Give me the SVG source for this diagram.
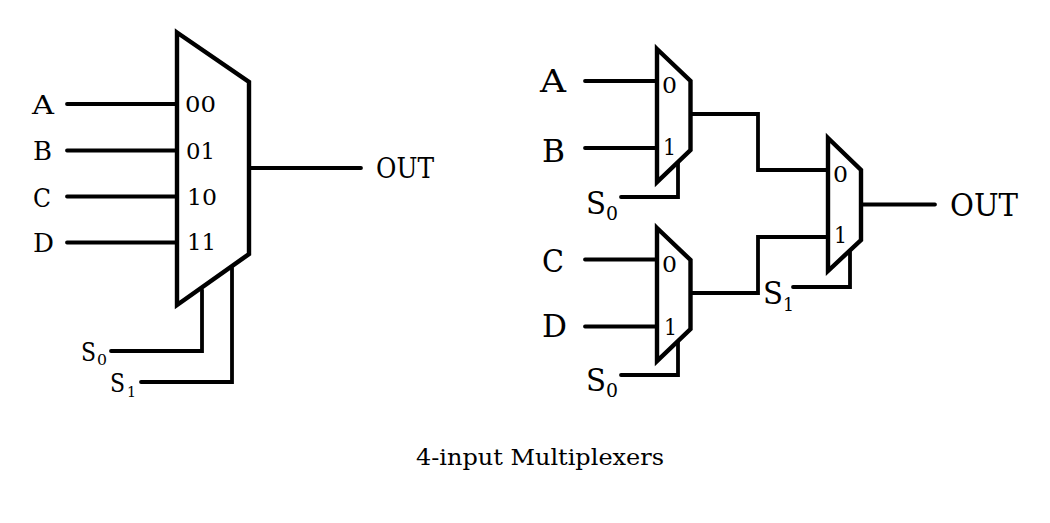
<svg xmlns="http://www.w3.org/2000/svg" width="1050" height="523" viewBox="0 0 1050 523">
<style>
text{font-family:"DejaVu Serif","Liberation Serif",serif;fill:#000}
.w{fill:none;stroke:#000;stroke-width:3.8;stroke-linecap:round;stroke-linejoin:miter}
.m{fill:#fff;stroke:#000;stroke-width:4.4;stroke-linejoin:miter}
.l{font-size:26px}.r{font-size:31px}.o{font-size:27px}.p{font-size:22px}.q{font-size:22px}.s{font-size:26px}.sub{font-size:15px}.subr{font-size:18px}.t{font-size:22px}
</style>
<rect width="1050" height="523" fill="#fff"/>
<g id="connectors">
<path class="w" d="M67 104H177M67 150.500H177M67 196.500H177M67 242.500H177M249 168H361M111 351H202V290M141 382H232V268"/>
<path class="w" d="M585 81H657M585 148H657M585 259.500H657M585 326.500H657M621 197H678V163M621 375H678V342M691 114H758V170H828M691 293H758V237H828M861 204.500H935M793 287H850V252"/>
</g>
<g id="mux4">
<polygon class="m" points="177,32.500 249,82 249,254 177,305"/>
<text class="p" x="185" y="112" textLength="31" lengthAdjust="spacingAndGlyphs">00</text>
<text class="p" x="186" y="159" textLength="29" lengthAdjust="spacingAndGlyphs">01</text>
<text class="p" x="187" y="205" textLength="30" lengthAdjust="spacingAndGlyphs">10</text>
<text class="p" x="187" y="250" textLength="29" lengthAdjust="spacingAndGlyphs">11</text>
</g>
<g id="mux-a"><polygon class="m" points="657,49 690.500,81 690.500,150 657,182"/>
<text class="q" x="662" y="93" textLength="15" lengthAdjust="spacingAndGlyphs">0</text><text class="q" x="663" y="155" textLength="13" lengthAdjust="spacingAndGlyphs">1</text></g>
<g id="mux-b"><polygon class="m" points="657,228 690.500,260 690.500,329 657,361"/>
<text class="q" x="662" y="272" textLength="15" lengthAdjust="spacingAndGlyphs">0</text><text class="q" x="664" y="335" textLength="13" lengthAdjust="spacingAndGlyphs">1</text></g>
<g id="mux-c"><polygon class="m" points="828,138 861,170 861,240 828,271"/>
<text class="q" x="833" y="182" textLength="15" lengthAdjust="spacingAndGlyphs">0</text><text class="q" x="834" y="243" textLength="13" lengthAdjust="spacingAndGlyphs">1</text></g>
<g id="labels">
<text class="l" x="32" y="114" textLength="22" lengthAdjust="spacingAndGlyphs">A</text>
<text class="l" x="33" y="160" textLength="19" lengthAdjust="spacingAndGlyphs">B</text>
<text class="l" x="33" y="207" textLength="18" lengthAdjust="spacingAndGlyphs">C</text>
<text class="l" x="33" y="252" textLength="21" lengthAdjust="spacingAndGlyphs">D</text>
<text class="o" x="376" y="178" textLength="58" lengthAdjust="spacingAndGlyphs">OUT</text>
<text class="s" x="81" y="361" textLength="15" lengthAdjust="spacingAndGlyphs">S</text><text class="sub" x="97" y="365" textLength="10" lengthAdjust="spacingAndGlyphs">0</text>
<text class="s" x="110" y="392" textLength="15" lengthAdjust="spacingAndGlyphs">S</text><text class="sub" x="127" y="397" textLength="9" lengthAdjust="spacingAndGlyphs">1</text>
<text class="r" x="540" y="92" textLength="26" lengthAdjust="spacingAndGlyphs">A</text>
<text class="r" x="542" y="162" textLength="23" lengthAdjust="spacingAndGlyphs">B</text>
<text class="r" x="542" y="272" textLength="22" lengthAdjust="spacingAndGlyphs">C</text>
<text class="r" x="542" y="337" textLength="25" lengthAdjust="spacingAndGlyphs">D</text>
<text class="r" x="950" y="216" textLength="68" lengthAdjust="spacingAndGlyphs">OUT</text>
<text class="r" x="586" y="214" textLength="20" lengthAdjust="spacingAndGlyphs">S</text><text class="subr" x="606" y="220" textLength="12" lengthAdjust="spacingAndGlyphs">0</text>
<text class="r" x="586" y="391" textLength="20" lengthAdjust="spacingAndGlyphs">S</text><text class="subr" x="606" y="397" textLength="12" lengthAdjust="spacingAndGlyphs">0</text>
<text class="r" x="763" y="304" textLength="20" lengthAdjust="spacingAndGlyphs">S</text><text class="subr" x="783" y="311" textLength="11" lengthAdjust="spacingAndGlyphs">1</text>
<text class="t" x="416" y="465" textLength="248" lengthAdjust="spacingAndGlyphs">4-input Multiplexers</text>
</g>
</svg>
